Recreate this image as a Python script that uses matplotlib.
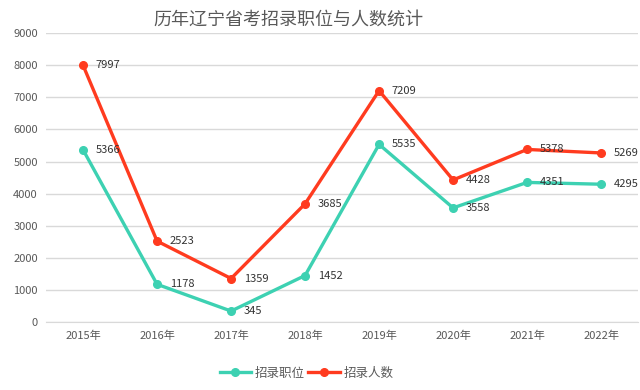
import numpy as np
import matplotlib.pyplot as plt
from matplotlib.ticker import MultipleLocator

plt.rcParams['font.family'] = ['Noto Sans CJK SC', 'DejaVu Sans']

years = ['2015年', '2016年', '2017年', '2018年', '2019年', '2020年', '2021年', '2022年']
posts = [5366, 1178, 345, 1452, 5535, 3558, 4351, 4295]
people = [7997, 2523, 1359, 3685, 7209, 4428, 5378, 5269]

teal = '#3dd1b2'
red = '#ff3b1f'

fig = plt.figure(figsize=(6.4, 3.9), dpi=100)
ax = fig.add_axes([0.072, 0.174, 0.925, 0.741])
x = np.arange(len(years))

ax.plot(x, posts, color=teal, lw=2.4, marker='o', ms=5.5, label='招录职位', zorder=3)
ax.plot(x, people, color=red, lw=2.4, marker='o', ms=5.5, label='招录人数', zorder=3)

for xi, v in zip(x, posts):
    ax.annotate(str(v), (xi, v), xytext=(9, 0), textcoords='offset points',
                va='center', ha='left', fontsize=8, color='#333333')
for xi, v in zip(x, people):
    ax.annotate(str(v), (xi, v), xytext=(9, 0), textcoords='offset points',
                va='center', ha='left', fontsize=8, color='#333333')

ax.set_xlim(-0.5, len(years) - 0.5)
ax.set_ylim(0, 9000)
ax.yaxis.set_major_locator(MultipleLocator(1000))
ax.set_xticks(x)
ax.set_xticklabels(years)
ax.grid(axis='y', color='#d9d9d9', lw=1)
ax.set_axisbelow(True)
for s in ['top', 'right', 'left']:
    ax.spines[s].set_visible(False)
ax.spines['bottom'].set_color('#d9d9d9')
ax.tick_params(length=0, labelsize=8, colors='#595959', pad=6)

fig.text(0.45, 0.95, '历年辽宁省考招录职位与人数统计', ha='center', va='center',
         fontsize=13, color='#595959')

ax.legend(loc='upper center', bbox_to_anchor=(0.44, -0.115), ncol=2, frameon=False,
          fontsize=9, handlelength=2.5, columnspacing=0.3, handletextpad=0.3,
          labelcolor='#595959')

fig.savefig('out.png', dpi=100)
